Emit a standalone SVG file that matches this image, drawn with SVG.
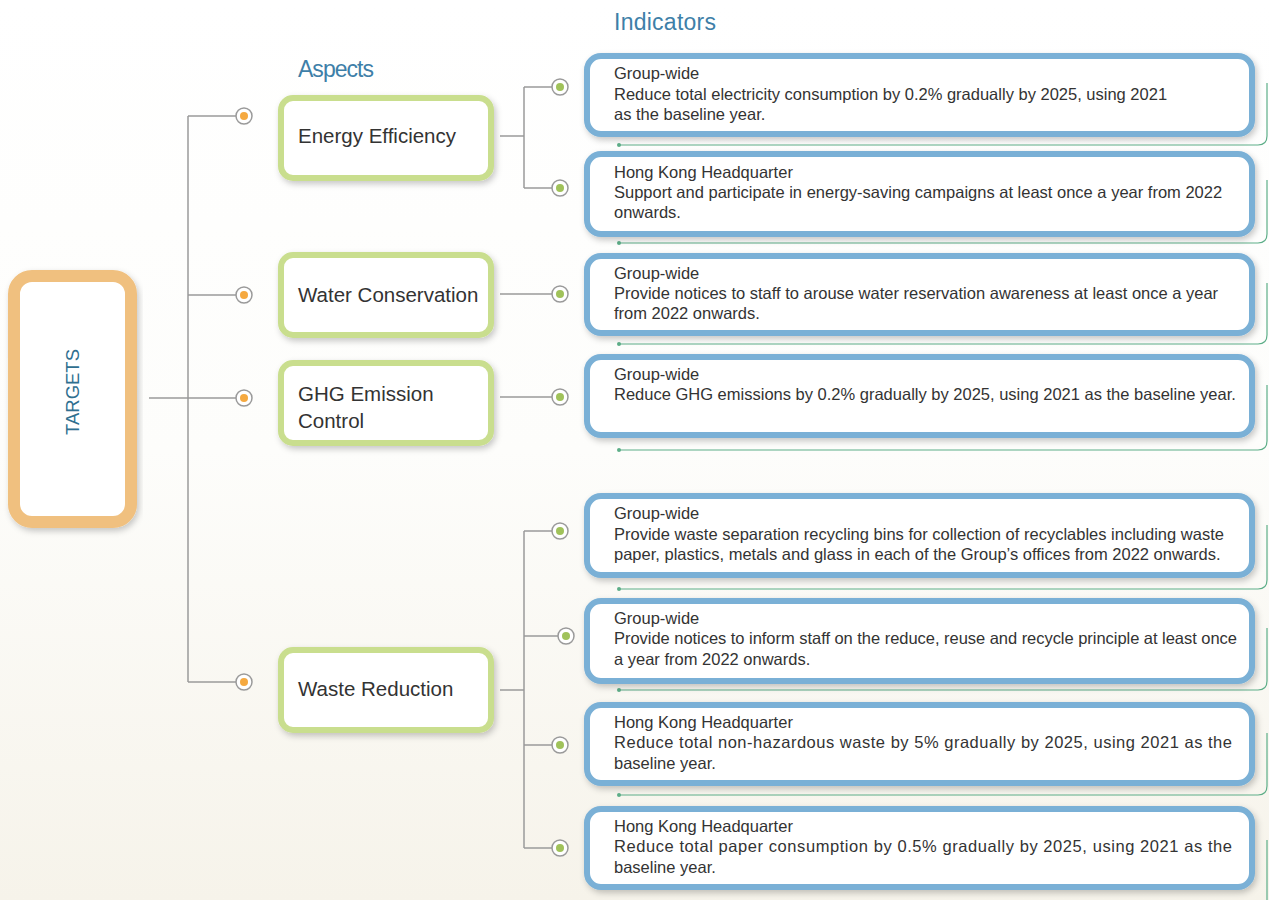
<svg xmlns="http://www.w3.org/2000/svg" width="1269" height="900" viewBox="0 0 1269 900">
<defs>
<linearGradient id="bg" x1="0" y1="0" x2="0" y2="1">
<stop offset="0" stop-color="#ffffff"/>
<stop offset="0.5" stop-color="#fdfdfb"/>
<stop offset="1" stop-color="#f6f3ea"/>
</linearGradient>
<filter id="sh" x="-10%" y="-10%" width="120%" height="130%">
<feDropShadow dx="2" dy="3" stdDeviation="3" flood-color="#000" flood-opacity="0.22"/>
</filter>
<style>
.ind{fill:#fff;stroke:#7AB0D6;stroke-width:6}
.asp{fill:#fff;stroke:#C9DE8E;stroke-width:6}
.tgt{fill:#fff;stroke:#F0C07F;stroke-width:12}
.t{font-family:"Liberation Sans","Noto Sans",sans-serif;font-size:16.5px;fill:#333}
.a{font-family:"Liberation Sans","Noto Sans",sans-serif;font-size:20.5px;fill:#333}
.h{font-family:"Liberation Sans","Noto Sans",sans-serif;font-size:23px;fill:#3E7FA8}
.ln{fill:none;stroke:#9a9a9a;stroke-width:1.5}
.gl{fill:none;stroke:#5DAE88;stroke-width:1.2}
.gd{fill:#5DAE88}
.ring{fill:#fff;stroke:#9a9a9a;stroke-width:1.5}
.od{fill:#F5A940}
.gn{fill:#A0C25A}
</style>
</defs>
<rect width="1269" height="900" fill="url(#bg)"/>

<text class="h" x="614" y="30" textLength="102">Indicators</text>
<text class="h" x="298" y="77" textLength="76">Aspects</text>

<g id="connectors">
<path class="ln" d="M149,398 H188 M188,116 V682 M188,116 H236 M188,295 H236 M188,398 H236 M188,682 H236"/>
<path class="ln" d="M500,136 H524 M524,87 V188 M524,87 H552 M524,188 H552"/>
<path class="ln" d="M500,294 H552"/>
<path class="ln" d="M500,397 H552"/>
<path class="ln" d="M500,690 H524 M524,531 V848 M524,531 H552 M524,636 H558 M524,745 H552 M524,848 H552"/>
<g>
<circle class="ring" cx="244" cy="116" r="8"/><circle class="od" cx="244" cy="116" r="4"/>
<circle class="ring" cx="244" cy="295" r="8"/><circle class="od" cx="244" cy="295" r="4"/>
<circle class="ring" cx="244" cy="398" r="8"/><circle class="od" cx="244" cy="398" r="4"/>
<circle class="ring" cx="244" cy="682" r="8"/><circle class="od" cx="244" cy="682" r="4"/>
<circle class="ring" cx="560" cy="87" r="8"/><circle class="gn" cx="560" cy="87" r="4"/>
<circle class="ring" cx="560" cy="188" r="8"/><circle class="gn" cx="560" cy="188" r="4"/>
<circle class="ring" cx="560" cy="294" r="8"/><circle class="gn" cx="560" cy="294" r="4"/>
<circle class="ring" cx="560" cy="397" r="8"/><circle class="gn" cx="560" cy="397" r="4"/>
<circle class="ring" cx="560" cy="531" r="8"/><circle class="gn" cx="560" cy="531" r="4"/>
<circle class="ring" cx="566" cy="636" r="8"/><circle class="gn" cx="566" cy="636" r="4"/>
<circle class="ring" cx="560" cy="745" r="8"/><circle class="gn" cx="560" cy="745" r="4"/>
<circle class="ring" cx="560" cy="848" r="8"/><circle class="gn" cx="560" cy="848" r="4"/>
</g>
<path class="gl" d="M619,145 H1258 Q1267,145 1267,136 V83"/>
<path class="gl" d="M619,243 H1258 Q1267,243 1267,234 V180"/>
<path class="gl" d="M619,344 H1258 Q1267,344 1267,335 V283"/>
<path class="gl" d="M619,450 H1258 Q1267,450 1267,441 V385"/>
<path class="gl" d="M619,589 H1258 Q1267,589 1267,580 V525"/>
<path class="gl" d="M619,690 H1258 Q1267,690 1267,681 V628"/>
<path class="gl" d="M619,795 H1258 Q1267,795 1267,786 V733"/>
<path class="gl" d="M1267,840 V900"/>
<circle class="gd" cx="619" cy="145" r="2"/>
<circle class="gd" cx="619" cy="243" r="2"/>
<circle class="gd" cx="619" cy="344" r="2"/>
<circle class="gd" cx="619" cy="450" r="2"/>
<circle class="gd" cx="619" cy="589" r="2"/>
<circle class="gd" cx="619" cy="690" r="2"/>
<circle class="gd" cx="619" cy="795" r="2"/>
</g>

<g id="targets">
<rect class="tgt" x="14" y="276" width="117" height="246" rx="18" filter="url(#sh)"/>
<text x="72" y="392" transform="rotate(-90 72 392)" text-anchor="middle" dominant-baseline="central" font-family="Liberation Sans, Noto Sans, sans-serif" font-size="18.5" fill="#2F6F90">TARGETS</text>
</g>

<g id="aspect-energy">
<rect class="asp" x="281" y="98" width="210" height="80" rx="12" filter="url(#sh)"/>
<text class="a" x="298" y="143">Energy Efficiency</text>
</g>
<g id="aspect-water">
<rect class="asp" x="281" y="255" width="210" height="80" rx="12" filter="url(#sh)"/>
<text class="a" x="298" y="302">Water Conservation</text>
</g>
<g id="aspect-ghg">
<rect class="asp" x="281" y="363" width="210" height="80" rx="12" filter="url(#sh)"/>
<text class="a" x="298" y="401">GHG Emission</text>
<text class="a" x="298" y="428">Control</text>
</g>
<g id="aspect-waste">
<rect class="asp" x="281" y="650" width="210" height="80" rx="12" filter="url(#sh)"/>
<text class="a" x="298" y="696">Waste Reduction</text>
</g>

<g id="ind-1">
<rect class="ind" x="587" y="56" width="665" height="78" rx="14" filter="url(#sh)"/>
<text class="t" x="614" y="79">Group-wide</text>
<text class="t" x="614" y="100">Reduce total electricity consumption by 0.2% gradually by 2025, using 2021</text>
<text class="t" x="614" y="120">as the baseline year.</text>
</g>
<g id="ind-2">
<rect class="ind" x="587" y="154" width="665" height="80" rx="14" filter="url(#sh)"/>
<text class="t" x="614" y="178">Hong Kong Headquarter</text>
<text class="t" x="614" y="198">Support and participate in energy-saving campaigns at least once a year from 2022</text>
<text class="t" x="614" y="218">onwards.</text>
</g>
<g id="ind-3">
<rect class="ind" x="587" y="256" width="665" height="77" rx="14" filter="url(#sh)"/>
<text class="t" x="614" y="279">Group-wide</text>
<text class="t" x="614" y="299">Provide notices to staff to arouse water reservation awareness at least once a year</text>
<text class="t" x="614" y="319">from 2022 onwards.</text>
</g>
<g id="ind-4">
<rect class="ind" x="587" y="357" width="665" height="78" rx="14" filter="url(#sh)"/>
<text class="t" x="614" y="380">Group-wide</text>
<text class="t" x="614" y="400">Reduce GHG emissions by 0.2% gradually by 2025, using 2021 as the baseline year.</text>
</g>
<g id="ind-5">
<rect class="ind" x="587" y="496" width="665" height="79" rx="14" filter="url(#sh)"/>
<text class="t" x="614" y="519">Group-wide</text>
<text class="t" x="614" y="540">Provide waste separation recycling bins for collection of recyclables including waste</text>
<text class="t" x="614" y="560">paper, plastics, metals and glass in each of the Group’s offices from 2022 onwards.</text>
</g>
<g id="ind-6">
<rect class="ind" x="587" y="601" width="665" height="80" rx="14" filter="url(#sh)"/>
<text class="t" x="614" y="624">Group-wide</text>
<text class="t" x="614" y="644" textLength="623">Provide notices to inform staff on the reduce, reuse and recycle principle at least once</text>
<text class="t" x="614" y="665">a year from 2022 onwards.</text>
</g>
<g id="ind-7">
<rect class="ind" x="587" y="705" width="665" height="78" rx="14" filter="url(#sh)"/>
<text class="t" x="614" y="728">Hong Kong Headquarter</text>
<text class="t" x="614" y="748" textLength="618" lengthAdjust="spacing">Reduce total non-hazardous waste by 5% gradually by 2025, using 2021 as the</text>
<text class="t" x="614" y="769">baseline year.</text>
</g>
<g id="ind-8">
<rect class="ind" x="587" y="809" width="665" height="78" rx="14" filter="url(#sh)"/>
<text class="t" x="614" y="832">Hong Kong Headquarter</text>
<text class="t" x="614" y="852" textLength="618" lengthAdjust="spacing">Reduce total paper consumption by 0.5% gradually by 2025, using 2021 as the</text>
<text class="t" x="614" y="873">baseline year.</text>
</g>
</svg>
